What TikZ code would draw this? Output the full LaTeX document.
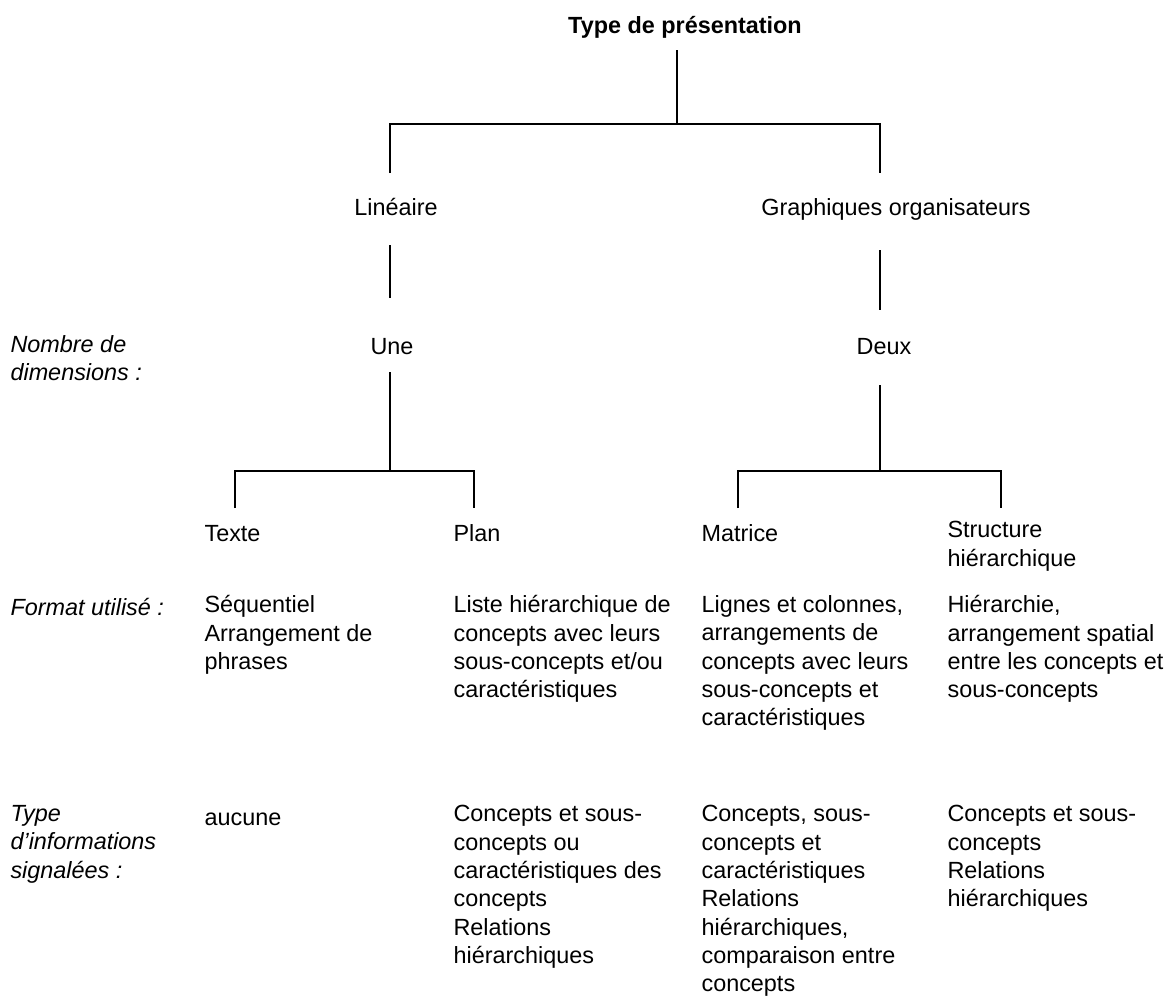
\documentclass[tikz,border=0pt]{standalone}
\usepackage{fontspec}
\setmainfont{Liberation Sans}
\tikzstyle{cell}=[anchor=north west,align=left,inner sep=0pt,execute at begin node=\strut,font=\fontsize{11.7}{14.15}\selectfont]
\tikzstyle{rowtitle}=[cell,font=\fontsize{11.7}{14.15}\selectfont\itshape]
\tikzstyle{branch}=[anchor=base,inner sep=0pt,font=\fontsize{11.7}{14.15}\selectfont]

\begin{document}
\begin{tikzpicture}[x=0.5pt,y=-0.5pt,line width=0.55pt]
\useasboundingbox (0,0) rectangle (1164,1001);
\node[branch,font=\fontsize{11.7}{14.15}\selectfont\bfseries] at (685, 33) (type) {Type de présentation};
\node[branch] at (396, 215) (lin) {Linéaire};
\node[branch] at (896, 215) (gra) {Graphiques organisateurs};
\node[branch] at (392, 354) (une) {Une};
\node[branch] at (884, 354) (deux) {Deux};
% row titles
\node[rowtitle] at (10, 335) (dim) {Nombre de\\dimensions :};
\node[rowtitle] at (10, 595) (fmt) {Format utilisé :};
\node[rowtitle] at (10, 805) (info) {Type\\d’informations\\signalées :};
% leaves
\node[cell] at (204, 521) (texte) {Texte};
\node[cell] at (453, 521) (plan) {Plan};
\node[cell] at (701, 521) (mat) {Matrice};
\node[cell] at (947, 521) (str) {Structure\\hiérarchique};
\node[cell] at (204, 595) (texte-f) {Séquentiel\\Arrangement de\\phrases};
\node[cell] at (453, 595) (plan-f) {Liste hiérarchique de\\concepts avec leurs\\sous-concepts et/ou\\caractéristiques};
\node[cell] at (701, 595) (mat-f) {Lignes et colonnes,\\arrangements de\\concepts avec leurs\\sous-concepts et\\caractéristiques};
\node[cell] at (947, 595) (str-f) {Hiérarchie,\\arrangement spatial\\entre les concepts et\\sous-concepts};
\node[cell] at (204, 805) (texte-i) {aucune};
\node[cell] at (453, 805) (plan-i) {Concepts et sous-\\concepts ou\\caractéristiques des\\concepts\\Relations\\hiérarchiques};
\node[cell] at (701, 805) (mat-i) {Concepts, sous-\\concepts et\\caractéristiques\\Relations\\hiérarchiques,\\comparaison entre\\concepts};
\node[cell] at (947, 805) (str-i) {Concepts et sous-\\concepts\\Relations\\hiérarchiques};
% tree lines
\coordinate (r0) at (677, 50);
\coordinate (r1) at (677, 124);
\coordinate (lin0) at (390, 173);
\coordinate (gra0) at (880, 173);
\coordinate (lin1) at (390, 245);
\coordinate (lin2) at (390, 298);
\coordinate (gra1) at (880, 250);
\coordinate (gra2) at (880, 310);
\coordinate (une1) at (390, 372);
\coordinate (une2) at (390, 471);
\coordinate (deux1) at (880, 385);
\coordinate (deux2) at (880, 471);
\coordinate (texte0) at (235, 508);
\coordinate (plan0) at (474, 508);
\coordinate (mat0) at (738, 508);
\coordinate (str0) at (1001, 508);
\draw (r0) -- (r1);
\draw (lin0) |- (r1) -| (gra0);
\draw (lin1) -- (lin2);
\draw (gra1) -- (gra2);
\draw (une1) -- (une2);
\draw (texte0) |- (une2) -| (plan0);
\draw (deux1) -- (deux2);
\draw (mat0) |- (deux2) -| (str0);
\end{tikzpicture}
\end{document}
